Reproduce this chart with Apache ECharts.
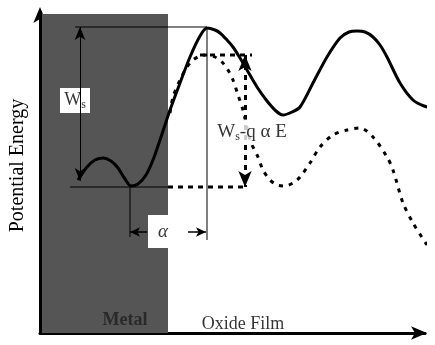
<!DOCTYPE html>
<html><head><meta charset="utf-8">
<script src="https://cdn.jsdelivr.net/npm/echarts@6/dist/echarts.min.js"></script>
<style>html,body{margin:0;padding:0;background:#fff}#c{width:435px;height:345px}</style>
</head><body><div id="c"></div>
<script>
// Solid curve (no field): distance vs potential energy
const solidDistance = [38,47,55,63,71,78,85,91,98,106,113,120,130,140,150,160,167,175,180,187,193,200,207,217,227,236,243,252,260,273,287,300,309,317,325,333,340,347,360,373,384,394];
const solidEnergy   = [153,166,173,175,172,165,154,147,149,158,173,193,223,250,276,297,305,303,300,293,286,275,263,246,232,222,218,221,226,250,276,295,301,302,301,296,288,276,250,233,227,225];
// Dashed curve (with applied field)
const dashedDistance = [130,133,140,147,153,160,167,175,182,188,193,198,203,210,218,223,230,237,245,253,260,270,280,293,307,320,333,347,353,363,373,387];
const dashedEnergy   = [220,236,253,266,273,277,278,276,271,263,253,238,223,193,176,163,153,148,147,150,156,170,186,198,203,205,196,176,163,130,110,88];
// Key levels
const wsTop = 306, wsBottom = 146, fieldTop = 278, peakX = 167, wellX = 90, metalEdge = 128, metalTop = 319;

const serif = '"Liberation Serif","DejaVu Serif",serif';
const zip = (a,b)=>a.map((v,i)=>[v,b[i]]);
const seg = (pts, style, z)=>({type:'line', data:pts, symbol:'none', silent:true, z:z, clip:false,
  lineStyle:Object.assign({color:'#000', width:1}, style)});

const chart = echarts.init(document.getElementById('c'), null, {renderer:'canvas'});
chart.setOption({
  animation:false,
  grid:{left:40, right:10, top:12, bottom:12},
  xAxis:{type:'value', min:0, max:385, splitLine:{show:false}, axisTick:{show:false}, axisLabel:{show:false},
    axisLine:{onZero:true, lineStyle:{color:'#000', width:3}, symbol:['none','arrow'], symbolSize:[10,16], symbolOffset:[0,2]}},
  yAxis:{type:'value', min:0, max:321, splitLine:{show:false}, axisTick:{show:false}, axisLabel:{show:false},
    name:'Potential Energy', nameLocation:'middle', nameGap:12, nameRotate:90,
    nameTextStyle:{fontFamily:serif, fontSize:20, color:'#000', padding:[0,0,0,14]},
    axisLine:{lineStyle:{color:'#000', width:3}, symbol:['none','arrow'], symbolSize:[10,16], symbolOffset:[0,5]}},
  series:[
    // metal region
    {type:'line', data:[], z:1, silent:true,
      markArea:{silent:true, itemStyle:{color:'#555'}, data:[[{coord:[2,0]},{coord:[metalEdge,metalTop]}]]}},
    // thin construction lines
    seg([[35,wsTop],[peakX,wsTop]], {}, 2),
    seg([[peakX,wsTop],[peakX,93]], {}, 2),
    seg([[wellX,148],[wellX,96]], {}, 2),
    seg([[30,wsBottom],[metalEdge,wsBottom]], {}, 2),
    seg([[metalEdge,wsBottom],[205,wsBottom]], {width:3, type:[5,5]}, 2),
    seg([[160,fieldTop],[212,fieldTop]], {width:3, type:[5,5]}, 2),
    // Ws arrow
    {type:'line', data:[], z:2, silent:true,
      markLine:{silent:true, symbol:['arrow','arrow'], symbolSize:[8,13], label:{show:false},
        lineStyle:{color:'#000', width:1, type:'solid'},
        data:[[{coord:[40,wsTop]},{coord:[40,152]}]]}},
    // Ws - q a E arrow
    {type:'line', data:[], z:2, silent:true,
      markLine:{silent:true, symbol:['arrow','arrow'], symbolSize:[10,16], label:{show:false},
        lineStyle:{color:'#000', width:3, type:[5,5]},
        data:[[{coord:[205,fieldTop]},{coord:[205,wsBottom]}]]}},
    // alpha arrows
    {type:'line', data:[], z:2, silent:true,
      markLine:{silent:true, symbol:['none','arrow'], symbolSize:[7,10], label:{show:false},
        lineStyle:{color:'#000', width:1.5, type:'solid'},
        data:[[{coord:[107,101]},{coord:[wellX,101]}],[{coord:[148,101]},{coord:[peakX-1,101]}]]}},
    // white label boxes
    {type:'line', data:[], z:3, silent:true,
      markArea:{silent:true, itemStyle:{color:'#fff'}, data:[
        [{coord:[20,220]},{coord:[50,245]}],
        [{coord:[108,85]},{coord:[metalEdge,118]}]]}},
    // curves
    {type:'line', data:zip(solidDistance, solidEnergy), smooth:0.3, symbol:'none', z:4, clip:false, silent:true,
      lineStyle:{color:'#000', width:3}},
    {type:'line', data:zip(dashedDistance, dashedEnergy), smooth:0.3, symbol:'none', z:4, clip:false, silent:true,
      lineStyle:{color:'#000', width:3, type:[4,6]}},
    // text labels
    {type:'scatter', symbolSize:0, z:5, silent:true, data:[
      {value:[35,233], label:{show:true, position:'inside', formatter:'W{s|s}', fontFamily:serif, fontSize:18, color:'#000',
        rich:{s:{fontFamily:serif, fontSize:12, color:'#000', verticalAlign:'bottom', padding:[9,0,0,0]}}}},
      {value:[212,201], label:{show:true, position:'inside', formatter:'W{s|s}-q α E', fontFamily:serif, fontSize:19, color:'#000',
        backgroundColor:'#fff', padding:[2,1,2,1],
        rich:{s:{fontFamily:serif, fontSize:12, color:'#000', verticalAlign:'bottom', padding:[9,0,0,0]}}}},
      {value:[123,101], label:{show:true, position:'inside', formatter:'α', fontFamily:serif, fontSize:19, fontStyle:'italic', color:'#000'}},
      {value:[85,13], label:{show:true, position:'inside', formatter:'Metal', fontFamily:serif, fontSize:18, fontWeight:'bold', color:'#1e1e1e'}},
      {value:[203,9], label:{show:true, position:'inside', formatter:'Oxide Film', fontFamily:serif, fontSize:18, color:'#000'}}
    ]}
  ]
});
</script></body></html>
